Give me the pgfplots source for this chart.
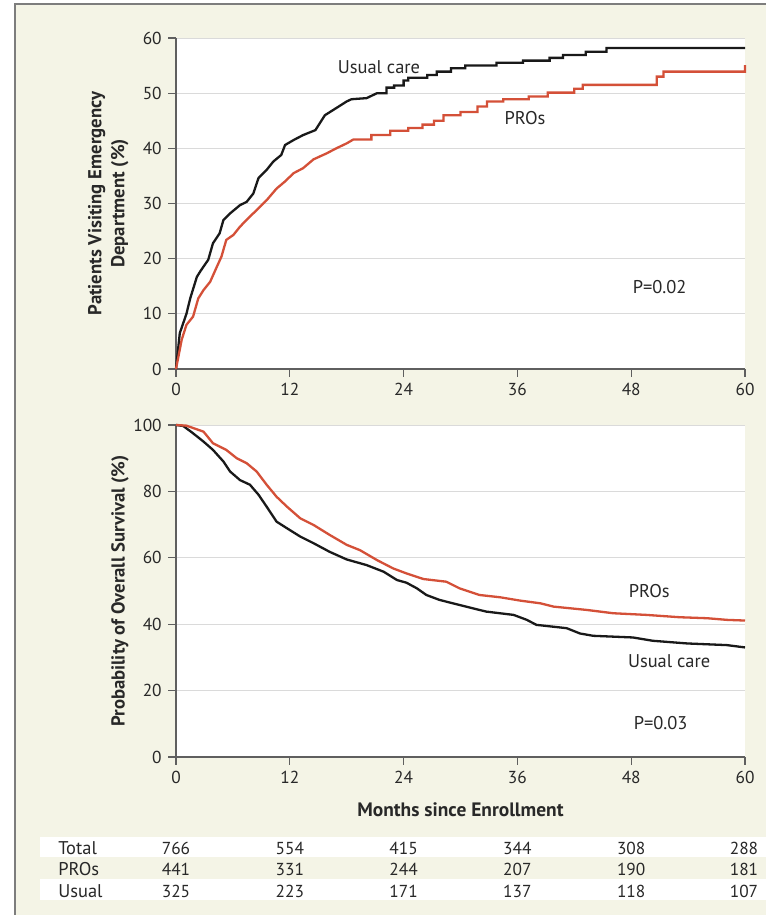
\documentclass[border=0pt]{standalone}
\usepackage{pgfplots}
\pgfplotsset{compat=1.18}
\usepackage{fontspec}
\setmainfont{PT Sans}
\definecolor{cream}{RGB}{244,244,230}
\definecolor{nejmred}{RGB}{212,80,56}
\definecolor{axgray}{RGB}{95,95,95}
\definecolor{gridgray}{RGB}{218,218,218}
\definecolor{framegray}{RGB}{125,125,125}
\definecolor{txt}{RGB}{40,40,40}

\newcommand{\lbl}{\fontsize{18.5}{22}\selectfont}
\newcommand{\num}{\fontsize{17.4}{20}\selectfont}

\pgfplotsset{
  myaxis/.style={
    scale only axis, width=569bp, xmin=0, xmax=60,
    axis x line*=bottom, axis y line*=left,
    axis line style={axgray, line width=1.3bp},
    tick style={axgray, line width=1.3bp},
    tick align=outside, major tick length=8bp,
    ymajorgrids, grid style={gridgray, line width=0.9bp},
    xtick={0,12,...,60},
    axis background/.style={fill=white},
    every tick label/.append style={font=\num, text=txt},
    /pgf/number format/assume math mode=true,
    ylabel style={font=\bfseries\fontsize{18.8}{23}\selectfont, text=txt, align=center},
    clip=false,
  }
}

\begin{document}
\lbl
\begin{tikzpicture}
\useasboundingbox (0,0) rectangle (766bp,915bp);
\fill[white] (0,0) rectangle (766bp,915bp);
\fill[cream] (15bp,0) rectangle (766bp,911bp);
\draw[framegray, line width=1.5bp] (15bp,0) -- (15bp,911bp) -- (766bp,911bp);
\fill[white] (40bp,58bp) rectangle (766bp,78bp);
\fill[white] (40bp,15bp) rectangle (766bp,36bp);

% ---------- top panel ----------
\begin{axis}[myaxis, at={(176bp,546bp)}, anchor=south west, height=331bp,
  ymin=0, ymax=60, ytick={0,10,...,60},
  ylabel={Patients Visiting Emergency\\Department (\%)},
  ylabel style={at={(axis description cs:-0.119,0.5)}, anchor=center}]
\addplot[black!90, line width=2.3bp] coordinates {
(0,0) (0.4,6.5) (1.1,10) (1.5,12.8) (2.2,16.7) (2.6,17.8) (3.4,19.8) (3.9,22.8)
(4.6,24.6) (5.0,27.0) (5.7,28.2) (6.75,29.7) (7.45,30.3) (8.15,31.8) (8.7,34.6)
(9.56,36.1) (10.26,37.6) (11.1,38.8) (11.5,40.6) (12.4,41.5) (13.4,42.4) (14.7,43.3)
(15.7,46.0) (16.9,47.3) (18.0,48.5) (18.5,48.9) (20.1,49.1) (21.2,50.0) (21.6,50.0)
(22.2,50.0) (22.2,51.0) (23.0,51.0) (23.0,51.4) (24.0,51.4) (24.0,52.3) (24.5,52.3)
(24.5,52.8) (26.5,52.8) (26.5,53.3) (27.5,53.3) (27.5,53.9) (29.0,53.9) (29.0,54.5)
(30.5,54.5) (30.5,55.0) (33.8,55.0) (33.8,55.5) (36.6,55.5) (36.6,55.9) (39.4,55.9)
(39.4,56.4) (40.8,56.4) (40.8,56.9) (43.2,56.9) (43.2,57.5) (45.4,57.5) (45.4,58.2)
(60,58.2)
};
\addplot[nejmred, line width=2.3bp] coordinates {
(0,0) (0.6,5.3) (1.1,8) (1.8,9.5) (2.35,12.8) (2.9,14.3) (3.6,15.8) (4.3,18.5)
(4.8,20.4) (5.3,23.4) (6.05,24.3) (6.75,25.8) (7.6,27.3) (8.5,28.8) (9.56,30.6)
(10.6,32.7) (11.5,34.0) (12.4,35.5) (13.4,36.4) (14.5,38.0) (15.9,39.1) (16.9,40.0)
(18.0,40.9) (18.7,41.6) (20.6,41.6) (20.6,42.4) (22.6,42.4) (22.6,43.2) (24.5,43.2)
(24.5,43.7) (26,43.7) (26,44.3) (27.2,44.3) (27.2,45.0) (28.2,45.0) (28.2,46.0)
(30,46.0) (30,46.6) (31.8,46.6) (31.8,47.6) (32.8,47.6) (32.8,48.5) (34.5,48.5)
(34.5,48.9) (37.2,48.9) (37.2,49.4) (39.2,49.4) (39.2,50.1) (42.0,50.1) (42.0,50.8)
(42.9,50.8) (42.9,51.5) (50.7,51.5) (50.7,53.0) (51.4,53.0) (51.4,53.9) (60,53.9)
(60,55.1)
};
\node[text=txt] at (axis cs:21.4,54.7) {Usual care};
\node[text=txt] at (axis cs:36.8,45.5) {PROs};
\node[text=txt] at (axis cs:51.0,14.9) {P=0.02};
\end{axis}

% ---------- bottom panel ----------
\begin{axis}[myaxis, at={(176bp,158bp)}, anchor=south west, height=332bp,
  ymin=0, ymax=100, ytick={0,20,...,100},
  ylabel={Probability of Overall Survival (\%)},
  ylabel style={at={(axis description cs:-0.0984,0.5)}, anchor=center},
  xlabel={Months since Enrollment},
  xlabel style={at={(axis description cs:0.5,-0.16)}, anchor=center,
     font=\bfseries\fontsize{19.5}{22}\selectfont, text=txt}]
\addplot[black!90, line width=2.3bp] coordinates {
(0,100) (0.77,99.7) (1.8,97.5) (2.9,95) (3.9,92.5) (5.0,89) (5.7,86) (6.75,83.4)
(7.8,82) (8.7,79) (9.56,75.4) (10.6,70.9) (11.7,68.9) (13.1,66.4) (14.5,64.4)
(16.2,61.8) (18.0,59.5) (20.1,57.8) (21.9,55.8) (23.3,53.3) (24.3,52.5) (25.4,50.8)
(26.4,48.8) (27.8,47.3) (30.3,45.5) (32.7,43.8) (35.6,42.8) (37.0,41.3) (38.0,39.8)
(41.2,38.8) (42.6,37.2) (44.0,36.5) (48.2,36.0) (50.3,35.0) (53.9,34.2) (58.1,33.7)
(60,33.0)
};
\addplot[nejmred, line width=2.3bp] coordinates {
(0,100) (1.1,99.8) (2.9,98) (3.9,94.5) (5.3,92.5) (6.4,90) (7.45,88.5) (8.5,86)
(9.56,82) (10.6,78.4) (11.7,75.4) (13.1,71.9) (14.5,69.9) (16.2,66.9) (18.0,63.9)
(19.4,62.3) (21.2,59.3) (22.9,56.8) (24.3,55.3) (26.1,53.6) (28.5,52.8) (29.9,50.8)
(32.0,48.8) (34.2,48.1) (36.3,47.1) (38.4,46.3) (39.8,45.3) (43.3,44.3) (46.1,43.3)
(49.6,42.8) (53.1,42.1) (56.0,41.8) (58.1,41.3) (60,41.1)
};
\node[text=txt] at (axis cs:49.9,50.0) {PROs};
\node[text=txt] at (axis cs:52.0,28.9) {Usual care};
\node[text=txt] at (axis cs:51.1,10.2) {P=0.03};
\end{axis}

% ---------- numbers at risk ----------
\node[anchor=west, text=txt] at (52bp,67bp) {Total};
\node[anchor=west, text=txt] at (52bp,46bp) {PROs};
\node[anchor=west, text=txt] at (52bp,24bp) {Usual};
\foreach \x/\a/\b/\c in {176/766/441/325, 289.8/554/331/223, 403.6/415/244/171,
                          517.4/344/207/137, 631.2/308/190/118, 744/288/181/107}{
  \node[text=txt, font=\num] at (\x bp,67bp) {\a};
  \node[text=txt, font=\num] at (\x bp,46bp) {\b};
  \node[text=txt, font=\num] at (\x bp,24bp) {\c};
}
\end{tikzpicture}
\end{document}
